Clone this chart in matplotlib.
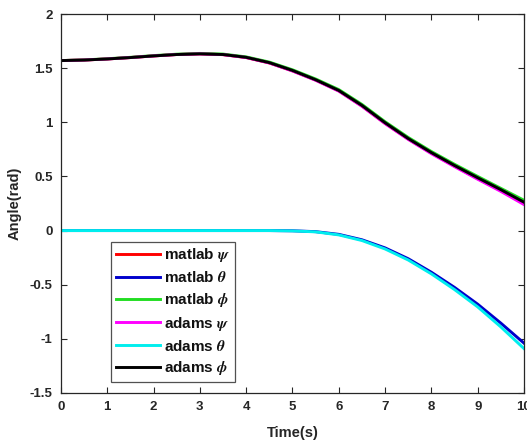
import matplotlib
matplotlib.use("Agg")
import matplotlib.pyplot as plt

t = [0, 0.5, 1, 1.5, 2, 2.5, 3, 3.5, 4, 4.5, 5, 5.5, 6, 6.5, 7, 7.5, 8, 8.5, 9, 9.5, 10]

matlab_psi   = [1.570, 1.575, 1.585, 1.598, 1.613, 1.626, 1.632, 1.625, 1.598, 1.548, 1.475, 1.390, 1.290, 1.150, 0.990, 0.845, 0.715, 0.595, 0.480, 0.370, 0.250]
matlab_theta = [0.000, 0.000, 0.000, 0.000, 0.000, 0.000, 0.000, 0.000, 0.000, 0.000, -0.002, -0.010, -0.035, -0.085, -0.160, -0.260, -0.385, -0.525, -0.680, -0.855, -1.040]
matlab_phi   = [1.570, 1.576, 1.587, 1.600, 1.616, 1.629, 1.636, 1.630, 1.604, 1.556, 1.485, 1.400, 1.302, 1.165, 1.005, 0.860, 0.730, 0.612, 0.500, 0.390, 0.280]
adams_psi    = [1.570, 1.575, 1.585, 1.598, 1.613, 1.626, 1.632, 1.625, 1.598, 1.548, 1.474, 1.388, 1.288, 1.148, 0.988, 0.842, 0.710, 0.590, 0.474, 0.362, 0.240]
adams_theta  = [0.000, 0.000, 0.000, 0.000, 0.000, 0.000, 0.000, 0.000, 0.000, 0.000, -0.003, -0.012, -0.040, -0.092, -0.170, -0.272, -0.400, -0.545, -0.705, -0.890, -1.090]
adams_phi    = [1.570, 1.575, 1.585, 1.598, 1.613, 1.626, 1.632, 1.626, 1.600, 1.551, 1.479, 1.393, 1.294, 1.156, 0.996, 0.850, 0.720, 0.601, 0.488, 0.378, 0.262]

series = [
    ("matlab $\\psi$", matlab_psi, "#ff0000"),
    ("matlab $\\theta$", matlab_theta, "#0000cc"),
    ("matlab $\\phi$", matlab_phi, "#22dd22"),
    ("adams $\\psi$", adams_psi, "#ff00ff"),
    ("adams $\\theta$", adams_theta, "#00eeee"),
    ("adams $\\phi$", adams_phi, "#000000"),
]

xticks = [0, 1, 2, 3, 4, 5, 6, 7, 8, 9, 10]
yticks = [-1.5, -1, -0.5, 0, 0.5, 1, 1.5, 2]
ytick_labels = ["-1.5", "-1", "-0.5", "0", "0.5", "1", "1.5", "2"]

plt.rcParams['font.family'] = ['Liberation Sans', 'DejaVu Sans']
plt.rcParams['font.weight'] = 'bold'
plt.rcParams['mathtext.fontset'] = 'stix'

fig = plt.figure(figsize=(5.27, 4.45), dpi=100)
ax = fig.add_axes([0.1157, 0.1169, 0.8786, 0.8516])

for label, vals, color in series:
    ax.plot(t, vals, color=color, lw=2.1, label=label)

ax.set_xlim(0, 10)
ax.set_ylim(-1.5, 2)
ax.set_xticks(xticks)
ax.set_xticklabels([str(v) for v in xticks])
ax.set_yticks(yticks)
ax.set_yticklabels(ytick_labels)
ax.tick_params(direction='in', length=4, width=0.8, top=True, right=True,
               labelsize=9.5, colors='#262626', pad=6)
for lab in ax.get_xticklabels() + ax.get_yticklabels():
    lab.set_fontweight('bold')
for s in ax.spines.values():
    s.set_color('#262626')
    s.set_linewidth(0.9)

ax.set_xlabel("Time(s)", fontsize=10.5, fontweight='bold', color='#262626', labelpad=9)
ax.set_ylabel("Angle(rad)", fontsize=10.5, fontweight='bold', color='#262626', labelpad=6)

leg = ax.legend(loc='lower left', bbox_to_anchor=(0.108, 0.029), fontsize=11,
                frameon=True, fancybox=False, edgecolor='#262626', borderpad=0.3,
                labelspacing=0.38, handlelength=2.9, handletextpad=0.25,
                borderaxespad=0)
leg.get_frame().set_linewidth(0.9)
for txt in leg.get_texts():
    txt.set_fontweight('bold')
    txt.set_color('#111111')

fig.savefig("out.png", dpi=100)
